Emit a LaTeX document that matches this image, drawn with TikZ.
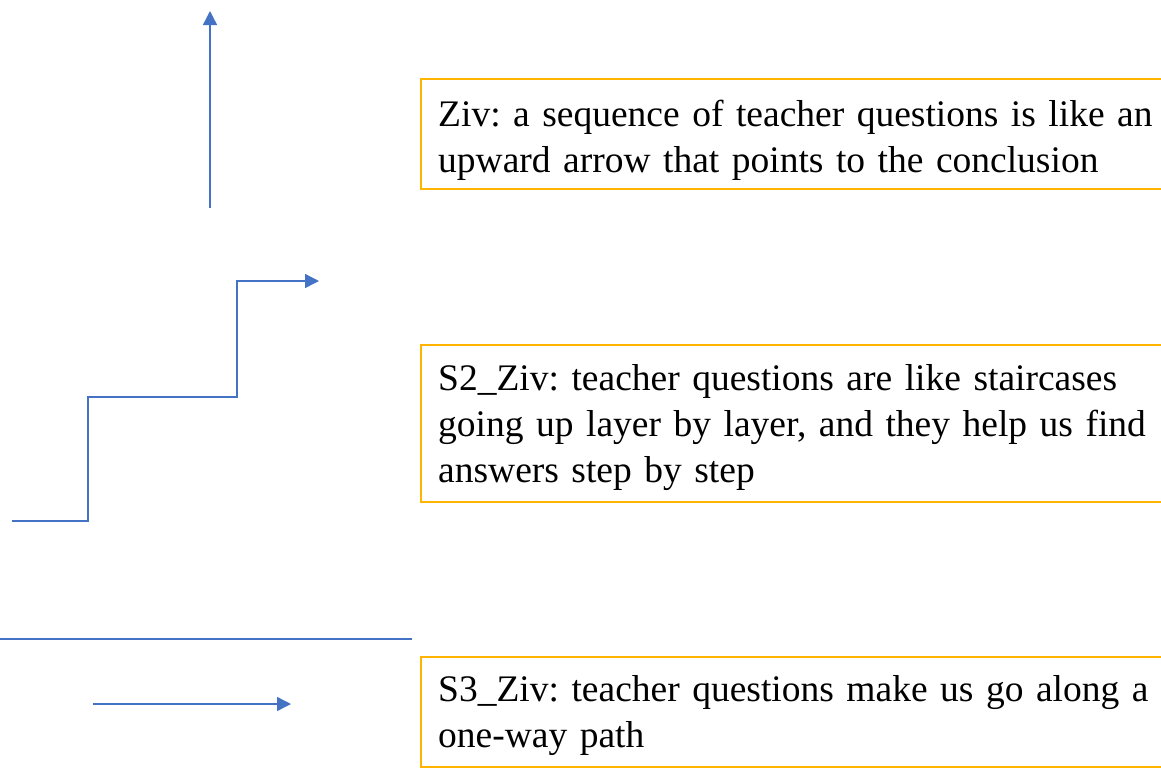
\documentclass[tikz,border=0pt]{standalone}
\usepackage{fontspec}
\setmainfont{Liberation Serif}
\usetikzlibrary{arrows.meta}
\definecolor{lineblue}{HTML}{4472C4}
\definecolor{boxorange}{HTML}{FFB400}
\tikzset{
  conn/.style={draw=lineblue, line width=1.4pt},
  arr/.style={conn, -{Triangle[length=14pt,width=14pt]}},
  frame/.style={draw=boxorange, line width=2pt},
  quote/.style={anchor=base west, inner sep=0pt, text width=740pt, align=left,
    font=\fontsize{37.5}{46}\selectfont\frenchspacing}
}
\begin{document}
\begin{tikzpicture}[x=1pt,y=-1pt]
\useasboundingbox (0,0) rectangle (1161,769);
% upward arrow
\coordinate (a1) at (210,208);
\coordinate (a2) at (210,11);
\draw[arr] (a1) -- (a2);
% staircase
\coordinate (s0) at (12,521);
\coordinate (s1) at (88,521);
\coordinate (s2) at (88,397);
\coordinate (s3) at (237,397);
\coordinate (s4) at (237,281);
\coordinate (s5) at (319,281);
\draw[arr] (s0) -- (s1) -- (s2) -- (s3) -- (s4) -- (s5);
% one-way path
\coordinate (h1) at (0,639);
\coordinate (h2) at (412,639);
\draw[conn] (h1) -- (h2);
\coordinate (p1) at (93,704);
\coordinate (p2) at (291,704);
\draw[arr] (p1) -- (p2);
% boxes
\draw[frame] (421,79) rectangle (1175,189);
\draw[frame] (421,345) rectangle (1175,502);
\draw[frame] (421,657) rectangle (1175,767);
\node[quote] (t1) at (438,126) {Ziv: a sequence of teacher questions is like an\\upward arrow that points to the conclusion};
\node[quote] (t2) at (438,390) {S2\_Ziv: teacher questions are like staircases\\going up layer by layer, and they help us find\\answers step by step};
\node[quote] (t3) at (438,701) {S3\_Ziv: teacher questions make us go along a\\one-way path};
\end{tikzpicture}
\end{document}
